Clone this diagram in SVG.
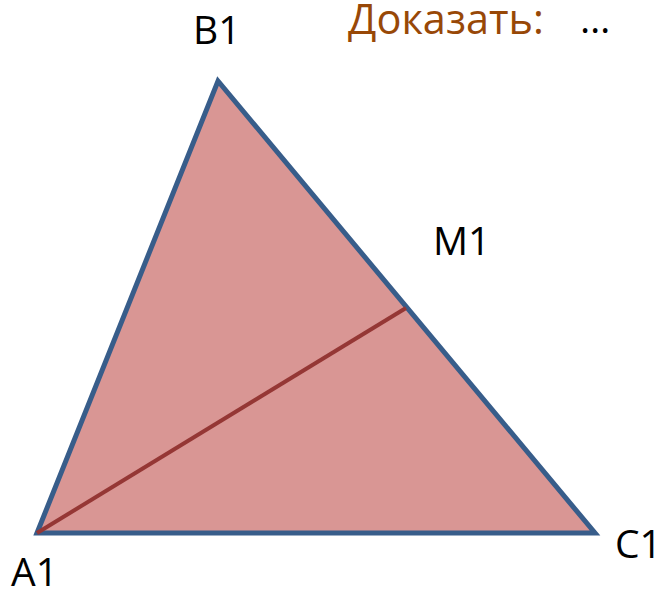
<svg xmlns="http://www.w3.org/2000/svg" width="666" height="590" viewBox="0 0 666 590">
<style>
.lbl{font-family:"Open Sans","Liberation Sans",sans-serif;font-size:39px;fill:#000}
.goal{font-family:"Open Sans","Liberation Sans",sans-serif;font-size:42px;fill:#984807}
</style>
<rect width="666" height="590" fill="#fff"/>
<g id="triangle">
<polygon points="37,533 218,81 595,533" fill="#D99694" stroke="#385D8A" stroke-width="5" stroke-linejoin="miter"/>
</g>
<g id="connectors">
<line x1="37" y1="533" x2="406" y2="308" stroke="#953735" stroke-width="4"/>
</g>
<g id="labels">
<text class="lbl" x="193" y="44">B1</text>
<text class="lbl" x="433" y="255">M1</text>
<text class="lbl" x="11" y="586">A1</text>
<text class="lbl" x="615" y="558">C1</text>
<text class="goal" x="348" y="34" textLength="196" lengthAdjust="spacingAndGlyphs">Доказать:</text>
<text class="lbl" x="580" y="33">…</text>
</g>
</svg>
